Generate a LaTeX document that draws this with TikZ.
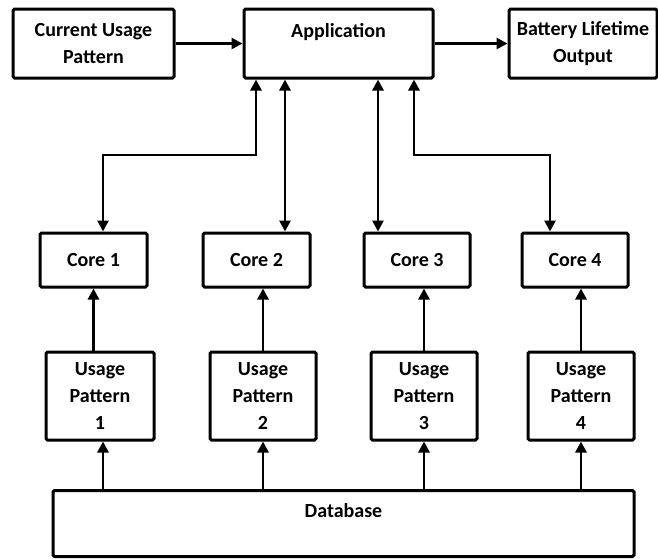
\documentclass[tikz,border=0pt]{standalone}
\usepackage{fontspec}
\setmainfont{Carlito}
\usetikzlibrary{arrows.meta}

\begin{document}
\begin{tikzpicture}[
        x=1pt, y=-1pt,
        box/.style={draw, line width=3pt, rounded corners=1.5pt, inner sep=0pt,
          align=center, font=\fontsize{20}{27}\selectfont\bfseries},
        link/.style={line width=2.7pt, -{Triangle[length=11pt,width=11pt]}},
        dlink/.style={line width=2.7pt, {Triangle[length=11pt,width=11pt]}-{Triangle[length=11pt,width=11pt]}}
      ]
      \useasboundingbox (0,0) rectangle (658,558);
      % top row
      \node[box, minimum width=161pt, minimum height=69pt] (cup) at (93.5,43.5) {Current Usage\\Pattern};
      \node[box, minimum width=189pt, minimum height=69pt] (app) at (338.5,43.5) {Application\\\mbox{}};
      \node[box, minimum width=148pt, minimum height=69pt] (bat) at (583,43.5) {Battery Lifetime\\Output};
      % cores
      \node[box, minimum width=107pt, minimum height=54pt] (c1) at (93.5,260) {Core 1};
      \node[box, minimum width=107pt, minimum height=54pt] (c2) at (256.5,260) {Core 2};
      \node[box, minimum width=106pt, minimum height=54pt] (c3) at (417,260) {Core 3};
      \node[box, minimum width=106pt, minimum height=54pt] (c4) at (575,260) {Core 4};
      % usage patterns
      \node[box, minimum width=108pt, minimum height=88pt] (u1) at (100,396) {Usage\\Pattern\\1};
      \node[box, minimum width=106pt, minimum height=88pt] (u2) at (263,396) {Usage\\Pattern\\2};
      \node[box, minimum width=106pt, minimum height=88pt] (u3) at (424,396) {Usage\\Pattern\\3};
      \node[box, minimum width=106pt, minimum height=88pt] (u4) at (581,396) {Usage\\Pattern\\4};
      \node[box, minimum width=581pt, minimum height=66pt] (db) at (343.5,523.5) {Database\\\mbox{}};

      \draw[link] (cup.east) -- (app.west);
      \draw[link] (app.east) -- (bat.west);

      % application <-> cores
      \coordinate (a1) at ([xshift=-82.5pt]app.south);
      \coordinate (a2) at ([xshift=-53.5pt]app.south);
      \coordinate (a3) at ([xshift=39.5pt]app.south);
      \coordinate (a4) at ([xshift=75.5pt]app.south);
      \coordinate (m1) at (103,155);
      \coordinate (m4) at (550,155);
      \draw[dlink] (a1) |- (m1) -- (m1 |- c1.north);
      \draw[dlink] (a2) -- (a2 |- c2.north);
      \draw[dlink] (a3) -- (a3 |- c3.north);
      \draw[dlink] (a4) |- (m4) -- (m4 |- c4.north);

      % usage patterns -> cores
      \draw[link] (u1.north -| c1.south) -- (c1.south);
      \draw[link] (u2.north) -- (u2.north |- c2.south);
      \draw[link] (u3.north) -- (u3.north |- c3.south);
      \draw[link] (u4.north) -- (u4.north |- c4.south);

      % database -> usage patterns
      \coordinate (d1) at ([xshift=3pt]u1.south);
      \draw[link] (db.north -| d1) -- (d1);
      \draw[link] (db.north -| u2.south) -- (u2.south);
      \draw[link] (db.north -| u3.south) -- (u3.south);
      \draw[link] (db.north -| u4.south) -- (u4.south);
\end{tikzpicture}
\end{document}
